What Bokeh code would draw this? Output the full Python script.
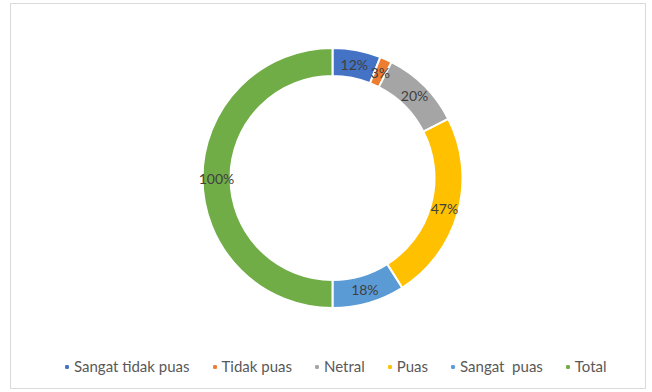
import math
from bokeh.plotting import figure
from bokeh.models import Range1d, ColumnDataSource, Legend, LegendItem
from bokeh.core.properties import value
from bokeh.embed import file_html
from bokeh.resources import INLINE

categories = ["Sangat tidak puas", "Tidak puas", "Netral", "Puas", "Sangat  puas", "Total"]
values = [12, 3, 20, 47, 18, 100]
colors = ["#4472C4", "#ED7D31", "#A5A5A5", "#FFC000", "#5B9BD5", "#70AD47"]

W, H = 652, 392
p = figure(width=W, height=H, output_backend="svg", toolbar_location=None,
           min_border_left=10, min_border_right=7, min_border_top=3, min_border_bottom=4,
           x_range=Range1d(10, 645), y_range=Range1d(4, 389))
p.axis.visible = False
p.grid.visible = False
p.outline_line_color = "#D9D9D9"
p.outline_line_width = 1
p.background_fill_color = "white"
p.border_fill_color = "white"

cx, cy = 332, 392 - 177.5
r_out, r_in = 130, 102
total = sum(values)
starts, ends, mids = [], [], []
acc = 0.0
for v in values:
    a0 = math.pi / 2 - 2 * math.pi * acc / total
    acc += v
    a1 = math.pi / 2 - 2 * math.pi * acc / total
    starts.append(a0)
    ends.append(a1)
    mids.append((a0 + a1) / 2)

r_mid = (r_out + r_in) / 2
src = ColumnDataSource(dict(
    start=starts, end=ends, color=colors, cat=categories,
    lx=[cx + r_mid * math.cos(m) for m in mids],
    ly=[cy + r_mid * math.sin(m) for m in mids],
    lab=[f"{v}%" for v in values],
))
p.annular_wedge(x=cx, y=cy, inner_radius=r_in, outer_radius=r_out,
                start_angle="start", end_angle="end", direction="clock",
                fill_color="color", line_color="white", line_width=2, source=src)
p.text(x="lx", y="ly", text="lab", source=src, text_align="center", text_baseline="middle",
       text_font=value("Lato"), text_font_size="14px", text_color="#404040")

items = []
for c, col in zip(categories, colors):
    r = p.scatter(x=[-1000], y=[-1000], marker="square", size=6, fill_color=col, line_color=col)
    items.append(LegendItem(label=c, renderers=[r]))
legend = Legend(items=items, orientation="horizontal", location=(53, 13),
                label_text_font="Lato", label_text_font_size="15px", label_text_color="#595959",
                glyph_width=7, glyph_height=7, label_standoff=4, spacing=21,
                padding=0, margin=0, border_line_color=None, background_fill_alpha=0,
                label_height=14)
p.add_layout(legend, "center")

open("out.html", "w").write(file_html(p, INLINE))
